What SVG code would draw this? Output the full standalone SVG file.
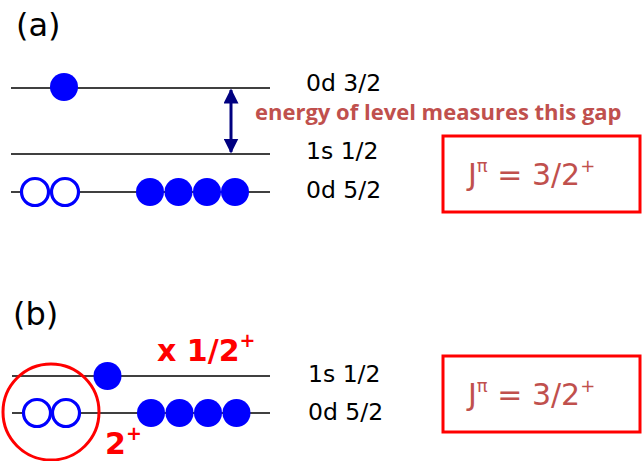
<svg xmlns="http://www.w3.org/2000/svg" width="643" height="461" viewBox="0 0 643 461">
<style>
.lvl{stroke:#000;stroke-width:1.3;fill:none}
.fill{fill:#0000ff}
.hol{fill:#fff;stroke:#0000ff;stroke-width:3.2}
.lab{font-family:"DejaVu Sans",sans-serif;font-size:23.5px;fill:#000}
.tag{font-family:"DejaVu Sans",sans-serif;font-size:32px;fill:#000}
.gap{font-family:"Open Sans",sans-serif;font-weight:bold;font-size:22px;fill:#c0504d}
.box{fill:#fff;stroke:#ff0000;stroke-width:3}
.jp{font-family:"DejaVu Sans",sans-serif;font-size:30px;fill:#c0504d}
.red{font-family:"DejaVu Sans",sans-serif;font-weight:bold;font-size:30px;fill:#ff0000}
</style>
<defs>
<marker id="ah" viewBox="0 0 10 10" refX="9" refY="5" markerWidth="5" markerHeight="5" orient="auto-start-reverse" markerUnits="strokeWidth">
<path d="M0,0 L10,5 L0,10 z" fill="#000080"/>
</marker>
</defs>
<g id="panel-a">
<text class="tag" x="16" y="36">(a)</text>
<g id="level-a-0d32"><line class="lvl" x1="11" y1="88" x2="270" y2="88"/><text class="lab" x="306" y="91">0d 3/2</text></g>
<g id="level-a-1s12"><line class="lvl" x1="11" y1="154" x2="270" y2="154"/><text class="lab" x="306" y="159">1s 1/2</text></g>
<g id="level-a-0d52"><line class="lvl" x1="11" y1="192" x2="270" y2="192"/><text class="lab" x="306" y="198">0d 5/2</text></g>
<g id="particles-a">
<circle class="fill" cx="64" cy="87" r="14"/>
<circle class="hol" cx="35" cy="192" r="13.5"/>
<circle class="hol" cx="65" cy="192" r="13.5"/>
<circle class="fill" cx="150" cy="192" r="14"/>
<circle class="fill" cx="178.5" cy="192" r="14"/>
<circle class="fill" cx="207" cy="192" r="14"/>
<circle class="fill" cx="235" cy="192" r="14"/>
</g>
<text class="gap" x="255" y="120">energy of level measures this gap</text>
<g id="box-a"><rect class="box" x="443" y="136" width="197" height="76"/>
<text class="jp" x="468" y="185">J<tspan font-size="18" dy="-13">π</tspan><tspan dy="13"> = 3/2</tspan><tspan font-size="18" dy="-13">+</tspan></text></g>
</g>
<g id="connectors">
<line x1="231" y1="90" x2="231" y2="152" stroke="#000080" stroke-width="3" marker-start="url(#ah)" marker-end="url(#ah)"/>
</g>
<g id="panel-b">
<text class="tag" x="13" y="325">(b)</text>
<g id="level-b-1s12"><line class="lvl" x1="12" y1="376" x2="270" y2="376"/><text class="lab" x="308" y="382">1s 1/2</text></g>
<g id="level-b-0d52"><line class="lvl" x1="12" y1="413" x2="270" y2="413"/><text class="lab" x="308" y="420">0d 5/2</text></g>
<g id="particles-b">
<circle class="fill" cx="107.5" cy="376" r="14"/>
<circle class="hol" cx="37" cy="413" r="13.5"/>
<circle class="hol" cx="66" cy="413" r="13.5"/>
<circle class="fill" cx="151" cy="413" r="14"/>
<circle class="fill" cx="179.5" cy="413" r="14"/>
<circle class="fill" cx="208" cy="413" r="14"/>
<circle class="fill" cx="236.5" cy="413" r="14"/>
</g>
<g id="pair-circle"><circle cx="51" cy="412" r="48" fill="none" stroke="#ff0000" stroke-width="3"/>
<text class="red" x="105" y="454">2<tspan font-size="19" dy="-14">+</tspan></text></g>
<text class="red" x="157" y="361">x 1/2<tspan font-size="19" dy="-14">+</tspan></text>
<g id="box-b"><rect class="box" x="443" y="356" width="197" height="76"/>
<text class="jp" x="468" y="405">J<tspan font-size="18" dy="-13">π</tspan><tspan dy="13"> = 3/2</tspan><tspan font-size="18" dy="-13">+</tspan></text></g>
</g>
</svg>
